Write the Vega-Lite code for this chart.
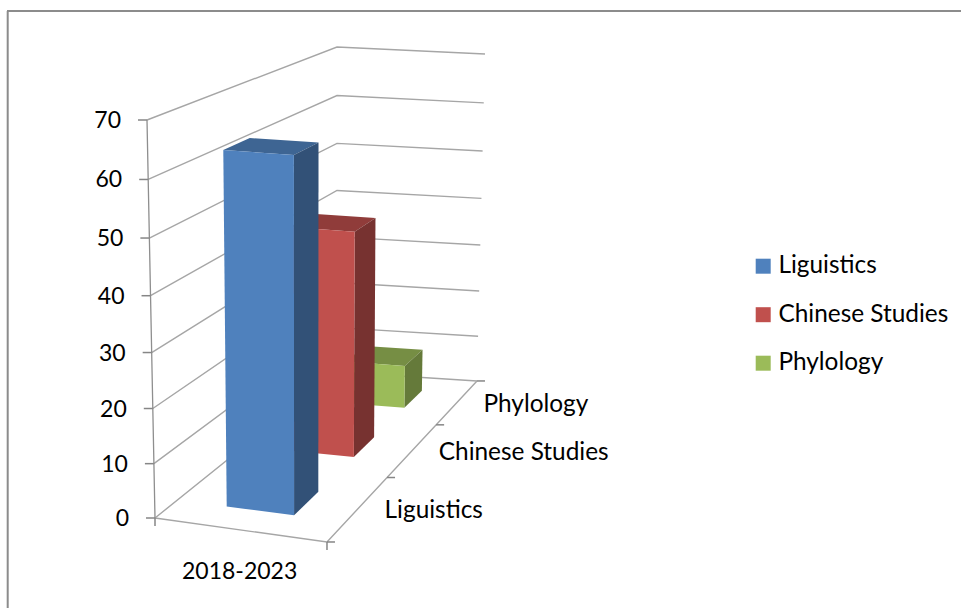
{
"$schema":"https://vega.github.io/schema/vega-lite/v6.json",
"width":961,"height":608,"padding":0,
"autosize":{"type":"none"},
"background":"white",
"config":{"view":{"stroke":null},"text":{"font":"Lato"}},
"datasets":{
"bars":[{"subject":"Phylology","value":9},{"subject":"Chinese Studies","value":44},{"subject":"Liguistics","value":64}],
"ticks":[{"tick":0},{"tick":10},{"tick":20},{"tick":30},{"tick":40},{"tick":50},{"tick":60},{"tick":70}],
"boundaries":[{"boundary":0},{"boundary":1},{"boundary":2},{"boundary":3}],
"edges":[{"edge":0},{"edge":1}],
"period":[{"period":"2018-2023"}],
"frame":[{"frame":"chart border"}]
},
"encoding":{
"x":{"field":"px","type":"quantitative","scale":{"domain":[0,961],"nice":false,"zero":false},"axis":null},
"y":{"field":"py","type":"quantitative","scale":{"domain":[608,0],"nice":false,"zero":false},"axis":null}
},
"layer":[
{"data":{"name":"frame"},"transform":[{"calculate":"7.7","as":"px"},{"calculate":"11","as":"py"},{"calculate":"608","as":"py2"}],"mark":{"type":"rule","stroke":"#8c8c8c","strokeWidth":2},"encoding":{"y2":{"field":"py2"}}},
{"data":{"name":"frame"},"transform":[{"calculate":"7","as":"px"},{"calculate":"11","as":"py"},{"calculate":"961","as":"px2"}],"mark":{"type":"rule","stroke":"#8c8c8c","strokeWidth":2},"encoding":{"x2":{"field":"px2"}}},
{"data":{"name":"ticks"},
"transform":[{"calculate":"[0,1,2]","as":"c"},{"flatten":["c"]},{"calculate":"[0,0,1][datum.c]","as":"u"},{"calculate":"[0,1,1][datum.c]","as":"v"},{"calculate":"datum.tick/70","as":"t"},{"calculate":"datum.t/(1.054-0.054*datum.t)","as":"f"},
{"calculate":"((147.2*datum.u+286.4*datum.v+155)/(1-0.0758*datum.u+0.3098*datum.v))*(1-datum.f)+((167.8*datum.u+279.5*datum.v+147)/(1-0.0403*datum.u+0.2657*datum.v))*datum.f","as":"px"},
{"calculate":"((-17.1*datum.u-30.8*datum.v+518)/(1-0.0758*datum.u+0.3098*datum.v))*(1-datum.f)+((6.68*datum.u-60.5*datum.v+120)/(1-0.0403*datum.u+0.2657*datum.v))*datum.f","as":"py"}],
"mark":{"type":"line","stroke":"#a6a6a6","strokeWidth":1.4},
"encoding":{"detail":{"field":"tick"},"order":{"field":"c"}}},
{"data":{"name":"ticks"},
"transform":[{"filter":"datum.tick==0"},{"calculate":"[0,1,2]","as":"c"},{"flatten":["c"]},{"calculate":"[0,1,1][datum.c]","as":"u"},{"calculate":"[0,0,1][datum.c]","as":"v"},
{"calculate":"(147.2*datum.u+286.4*datum.v+155)/(1-0.0758*datum.u+0.3098*datum.v)","as":"px"},
{"calculate":"(-17.1*datum.u-30.8*datum.v+518)/(1-0.0758*datum.u+0.3098*datum.v)","as":"py"}],
"mark":{"type":"line","stroke":"#a6a6a6","strokeWidth":1.4},
"encoding":{"order":{"field":"c"}}},
{"data":{"name":"ticks"},
"transform":[{"calculate":"datum.tick/70","as":"t"},{"calculate":"datum.t/(1.054-0.054*datum.t)","as":"f"},
{"calculate":"155*(1-datum.f)+147*datum.f","as":"px"},{"calculate":"518*(1-datum.f)+120*datum.f","as":"py"}],
"mark":{"type":"line","stroke":"#8e8e8e","strokeWidth":1.3},
"encoding":{"order":{"field":"tick"}}},
{"data":{"name":"ticks"},
"transform":[{"calculate":"datum.tick/70","as":"t"},{"calculate":"datum.t/(1.054-0.054*datum.t)","as":"f"},
{"calculate":"155*(1-datum.f)+147*datum.f","as":"px"},{"calculate":"518*(1-datum.f)+120*datum.f","as":"py"},{"calculate":"datum.px-9","as":"px2"}],
"mark":{"type":"rule","stroke":"#868686","strokeWidth":1.5},
"encoding":{"x2":{"field":"px2"}}},
{"data":{"name":"boundaries"},
"transform":[{"calculate":"1","as":"u"},{"calculate":"datum.boundary/3","as":"v"},
{"calculate":"(147.2*datum.u+286.4*datum.v+155)/(1-0.0758*datum.u+0.3098*datum.v)","as":"px"},
{"calculate":"(-17.1*datum.u-30.8*datum.v+518)/(1-0.0758*datum.u+0.3098*datum.v)","as":"py"},{"calculate":"datum.px+8","as":"px2"}],
"mark":{"type":"rule","stroke":"#868686","strokeWidth":1.5},
"encoding":{"x2":{"field":"px2"}}},
{"data":{"name":"edges"},
"transform":[{"calculate":"datum.edge","as":"u"},
{"calculate":"(147.2*datum.u+155)/(1-0.0758*datum.u)","as":"px"},
{"calculate":"(-17.1*datum.u+518)/(1-0.0758*datum.u)","as":"py"},{"calculate":"datum.py+8","as":"py2"}],
"mark":{"type":"rule","stroke":"#868686","strokeWidth":1.5},
"encoding":{"y2":{"field":"py2"}}},
{"data":{"name":"bars"},
"transform":[
{"calculate":"indexof(['Liguistics','Chinese Studies','Phylology'],datum.subject)","as":"bar"},
{"calculate":"['top','side','front']","as":"face"},{"flatten":["face"]},
{"calculate":"[0,1,2,3]","as":"c"},{"flatten":["c"]},
{"calculate":"datum.face=='side'?0.71:[0.31,0.71,0.71,0.31][datum.c]","as":"u"},
{"calculate":"datum.face=='top'?[0,0,1,1][datum.c]:(datum.face=='side'?[0,1,1,0][datum.c]:0)","as":"back"},
{"calculate":"datum.back==1?[0.222,0.554,0.897][datum.bar]:[0.096,0.426,0.764][datum.bar]","as":"v"},
{"calculate":"(datum.face=='top'?1:[0,0,1,1][datum.c])*datum.value/70","as":"t"},
{"calculate":"datum.t/(1.054-0.054*datum.t)","as":"f"},
{"calculate":"datum.face=='front'?datum.subject:datum.subject+' '+datum.face","as":"shade"},
{"calculate":"((147.2*datum.u+286.4*datum.v+155)/(1-0.0758*datum.u+0.3098*datum.v))*(1-datum.f)+((167.8*datum.u+279.5*datum.v+147)/(1-0.0403*datum.u+0.2657*datum.v))*datum.f","as":"px"},
{"calculate":"((-17.1*datum.u-30.8*datum.v+518)/(1-0.0758*datum.u+0.3098*datum.v))*(1-datum.f)+((6.68*datum.u-60.5*datum.v+120)/(1-0.0403*datum.u+0.2657*datum.v))*datum.f","as":"py"}],
"mark":{"type":"line","strokeWidth":0,"stroke":null},
"encoding":{
"order":{"field":"c"},
"detail":{"field":"shade"},
"fill":{"field":"shade","type":"nominal",
"scale":{"domain":["Liguistics","Chinese Studies","Phylology","Liguistics top","Liguistics side","Chinese Studies top","Chinese Studies side","Phylology top","Phylology side"],
"range":["#4f81bd","#c0504d","#9bbb59","#3e6593","#325177","#903c3a","#773230","#768e44","#657a3a"]},
"legend":{"title":null,"values":["Liguistics","Chinese Studies","Phylology"],"orient":"none","legendX":751,"legendY":254,"padding":0,"symbolType":"square","symbolSize":225,"symbolStrokeWidth":0,"labelFont":"Lato","labelFontSize":24.4,"labelColor":"#000000","labelOffset":3,"rowPadding":23.5,"labelLimit":220}}}},
{"data":{"name":"ticks"},
"transform":[{"calculate":"datum.tick/70","as":"t"},{"calculate":"datum.t/(1.054-0.054*datum.t)","as":"f"},
{"calculate":"155*(1-datum.f)+147*datum.f","as":"px"},{"calculate":"518*(1-datum.f)+120*datum.f","as":"py"}],
"mark":{"type":"text","align":"right","baseline":"middle","dx":-26,"dy":1,"fontSize":23,"font":"Lato","color":"#000000"},
"encoding":{"text":{"field":"tick","type":"quantitative"}}},
{"data":{"name":"bars"},
"transform":[{"calculate":"indexof(['Liguistics','Chinese Studies','Phylology'],datum.subject)","as":"bar"},{"calculate":"1","as":"u"},{"calculate":"(datum.bar+0.5)/3","as":"v"},
{"calculate":"(147.2*datum.u+286.4*datum.v+155)/(1-0.0758*datum.u+0.3098*datum.v)","as":"px"},
{"calculate":"(-17.1*datum.u-30.8*datum.v+518)/(1-0.0758*datum.u+0.3098*datum.v)","as":"py"}],
"mark":{"type":"text","align":"left","baseline":"middle","dx":26,"dy":3,"fontSize":24.4,"font":"Lato","color":"#000000"},
"encoding":{"text":{"field":"subject","type":"nominal"}}},
{"data":{"name":"period"},
"transform":[{"calculate":"0.5","as":"u"},
{"calculate":"(147.2*datum.u+155)/(1-0.0758*datum.u)","as":"px"},
{"calculate":"(-17.1*datum.u+518)/(1-0.0758*datum.u)","as":"py"}],
"mark":{"type":"text","align":"center","baseline":"middle","dx":2,"dy":42,"fontSize":23,"font":"Lato","color":"#000000"},
"encoding":{"text":{"field":"period","type":"nominal"}}}
]
}
